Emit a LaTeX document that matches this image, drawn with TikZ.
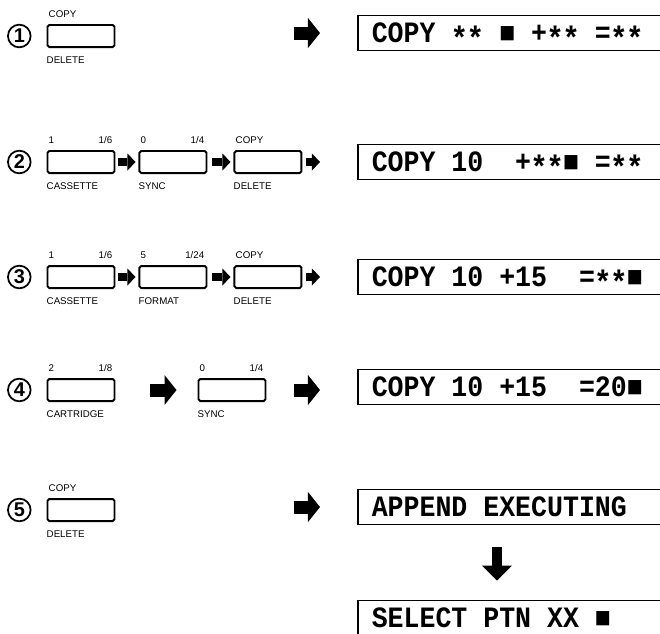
\documentclass[tikz,border=0pt]{standalone}
\usepackage{fontspec}
\setmainfont{Liberation Sans}
\newfontfamily\lcdfont{Liberation Mono}[FakeStretch=0.9]
\usetikzlibrary{arrows.meta,positioning}
\newcommand{\lcdstar}{\makebox[0.54em]{\raisebox{-5.5pt}{\scalebox{1.1}{*}}}}
\newcommand{\lcdgap}{\hspace*{0.54em}}
% one key of the panel: name, placement, top left, top right, below
\newcommand{\keycap}[5]{%
  \node[keybox,#2] (#1) {};
  \node[keytxt, anchor=base west] (#1tl) at ([shift={(2,-6.5)}]#1.north west) {#3};
  \node[keytxt, anchor=base east] (#1tr) at ([shift={(-3,-6.5)}]#1.north east) {#4};
  \node[keytxt, anchor=base west] (#1bt) at ([shift={(0,15.5)}]#1.south west) {#5};
}
\tikzset{
  keybox/.style={
    rectangle, rounded corners=1.5pt, draw, line width=1.7pt,
    minimum width=2.01cm, minimum height=0.66cm, inner sep=0pt
  },
  keytxt/.style={inner sep=0pt, font=\fontsize{8.3}{10}\selectfont},
  stepnum/.style={
    circle, draw, line width=1.5pt, minimum size=0.68cm, inner sep=0pt,
    font=\fontsize{17}{17}\selectfont\bfseries
  },
  lcdbox/.style={
    rectangle, draw, line width=1.3pt, anchor=west, text width=9cm,
    align=left, inner xsep=0.42cm, inner ysep=0pt, minimum height=1.05cm,
    text height=17pt, text depth=0pt,
    font=\lcdfont\bfseries\fontsize{25.2}{27}\selectfont
  },
  bigarrow/.style={-{Triangle[length=0.36cm,width=0.9cm,line width=0pt]}, line width=0.39cm},
  smallarrow/.style={-{Triangle[length=0.24cm,width=0.51cm,line width=0pt]}, line width=0.24cm},
  downarrow/.style={-{Triangle[length=0.45cm,width=0.9cm,line width=0pt]}, line width=0.3cm},
}
\begin{document}
\begin{tikzpicture}[x=0.03cm, y=-0.03cm]
  \useasboundingbox (0,0) rectangle (660,634);

  % displays
  \node[lcdbox] (d1) at (357,33) {COPY\lcdgap\lcdstar\lcdstar\lcdgap■\lcdgap+\lcdstar\lcdstar\lcdgap=\lcdstar\lcdstar};
  \node[lcdbox] (d2) at (357,162) {COPY\lcdgap10\lcdgap\lcdgap+\lcdstar\lcdstar■\lcdgap=\lcdstar\lcdstar};
  \node[lcdbox] (d3) at (357,277) {COPY\lcdgap10\lcdgap+15\lcdgap\lcdgap=\lcdstar\lcdstar■};
  \node[lcdbox] (d4) at (357,387) {COPY\lcdgap10\lcdgap+15\lcdgap\lcdgap=20■};
  \node[lcdbox] (d5) at (357,507) {APPEND\lcdgap EXECUTING};
  \node[lcdbox] (d6) at (357,618) {SELECT\lcdgap PTN\lcdgap XX\lcdgap■};

  % step 1
  \keycap{k11}{at={(81,36)}}{COPY}{}{DELETE}
  \node[stepnum, left=0.45cm of k11] (n1) {1};
  \draw[bigarrow, shorten <=5.34cm, shorten >=1.11cm] (k11.east |- d1.west) -- (d1.west);

  % step 2
  \keycap{k21}{at={(81,162)}}{1}{1/6}{CASSETTE}
  \keycap{k22}{right=0.69cm of k21}{0}{1/4}{SYNC}
  \keycap{k23}{right=0.78cm of k22}{COPY}{}{DELETE}
  \node[stepnum, left=0.45cm of k21] (n2) {2};
  \draw[smallarrow, shorten <=0.09cm, shorten >=0.09cm] (k21) -- (k22);
  \draw[smallarrow, shorten <=0.15cm, shorten >=0.09cm] (k22) -- (k23);
  \draw[smallarrow, shorten <=0.12cm, shorten >=1.11cm] (k23.east) -- (k23.east -| d2.west);

  % step 3
  \keycap{k31}{at={(81,277)}}{1}{1/6}{CASSETTE}
  \keycap{k32}{right=0.69cm of k31}{5}{1/24}{FORMAT}
  \keycap{k33}{right=0.78cm of k32}{COPY}{}{DELETE}
  \node[stepnum, left=0.45cm of k31] (n3) {3};
  \draw[smallarrow, shorten <=0.09cm, shorten >=0.09cm] (k31) -- (k32);
  \draw[smallarrow, shorten <=0.15cm, shorten >=0.09cm] (k32) -- (k33);
  \draw[smallarrow, shorten <=0.12cm, shorten >=1.11cm] (k33.east) -- (k33.east -| d3.west);

  % step 4
  \keycap{k41}{at={(81,390)}}{2}{1/8}{CARTRIDGE}
  \keycap{k42}{right=2.46cm of k41}{0}{1/4}{SYNC}
  \node[stepnum, left=0.45cm of k41] (n4) {4};
  \draw[bigarrow, shorten <=1.05cm, shorten >=0.63cm] (k41) -- (k42);
  \draw[bigarrow, shorten <=0.84cm, shorten >=1.11cm] (k42.east) -- (k42.east -| d4.west);

  % step 5
  \keycap{k51}{at={(81,510)}}{COPY}{}{DELETE}
  \node[stepnum, left=0.45cm of k51] (n5) {5};
  \draw[bigarrow, shorten <=5.34cm, shorten >=1.11cm] (k51.east |- d5.west) -- (d5.west);
  \coordinate (g6) at (497,560);
  \draw[downarrow, shorten <=0.66cm, shorten >=0.57cm] (d5.south -| g6) -- (d6.north -| g6);
\end{tikzpicture}
\end{document}
